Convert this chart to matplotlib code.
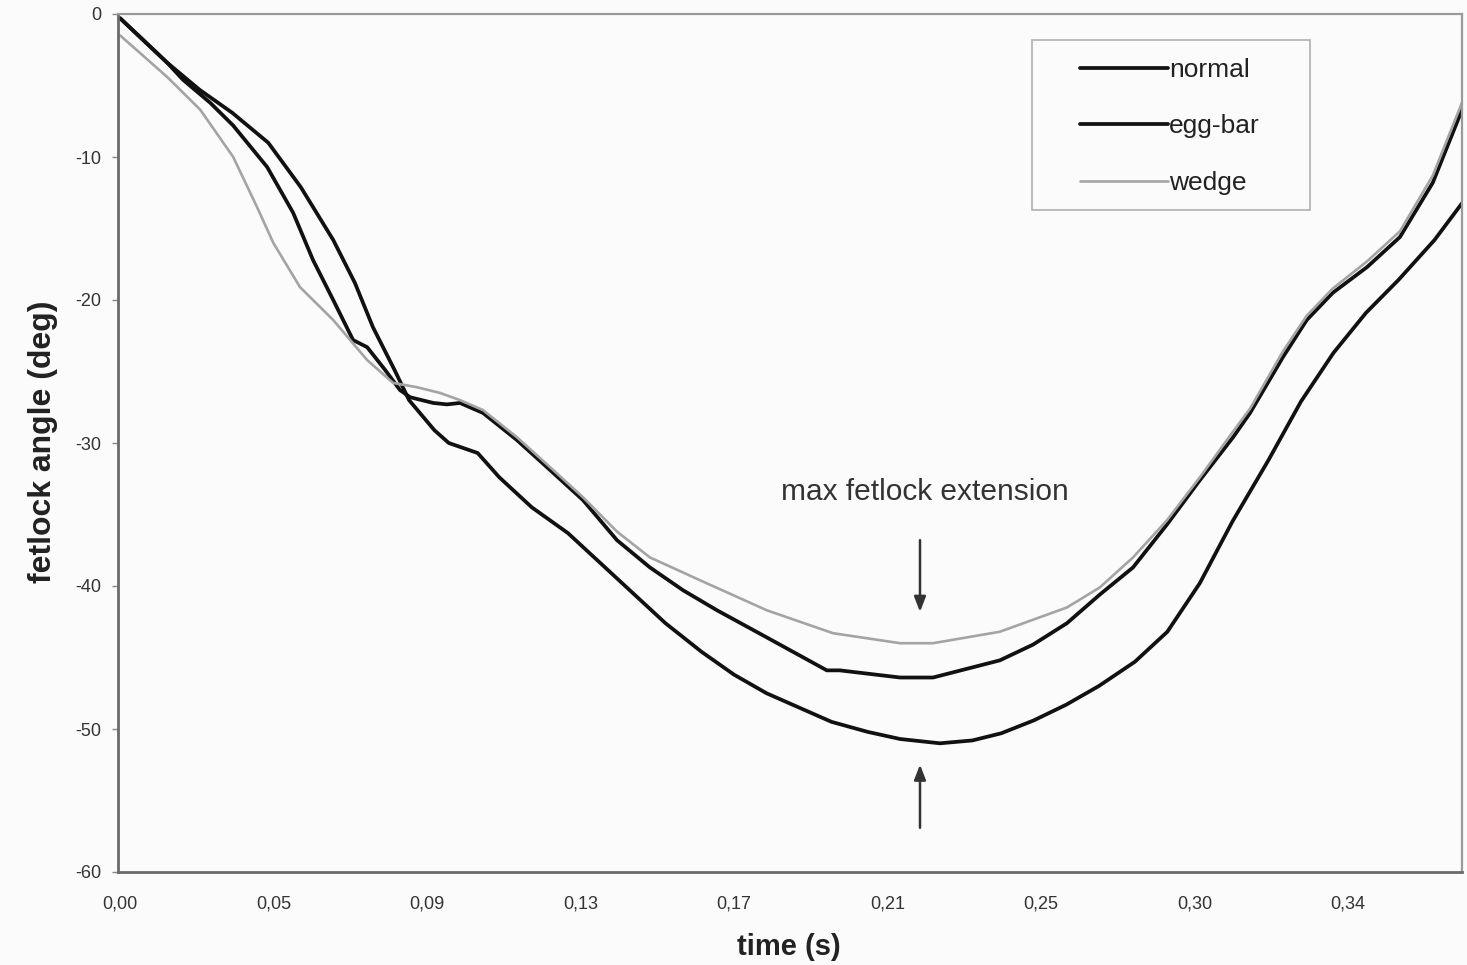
import matplotlib
matplotlib.use("Agg")
import matplotlib.pyplot as plt
from matplotlib.patches import Rectangle

plt.rcParams['font.family'] = ['Liberation Sans', 'DejaVu Sans']

# ---- data (time in s, fetlock angle in deg) ----
t_normal = [0.000, 0.013, 0.022, 0.031, 0.041, 0.050, 0.059, 0.065, 0.070, 0.076,
            0.080, 0.087, 0.091, 0.099, 0.105, 0.114, 0.124, 0.133, 0.142, 0.151,
            0.161, 0.170, 0.179, 0.188, 0.197, 0.207, 0.216, 0.227, 0.236, 0.244,
            0.253, 0.262, 0.271, 0.281, 0.290, 0.299, 0.308, 0.318, 0.327, 0.336,
            0.345, 0.354, 0.364, 0.372]
y_normal = [-0.3, -3.4, -5.3, -6.9, -9.0, -12.1, -15.8, -18.8, -21.9, -24.9,
            -27.0, -29.1, -30.0, -30.7, -32.4, -34.5, -36.3, -38.4, -40.5, -42.6,
            -44.6, -46.2, -47.5, -48.5, -49.5, -50.2, -50.7, -51.0, -50.8, -50.3,
            -49.4, -48.3, -47.0, -45.3, -43.2, -39.8, -35.5, -31.2, -27.1, -23.7,
            -20.9, -18.6, -15.8, -13.1]

t_eggbar = [0.000, 0.013, 0.0174, 0.0249, 0.0313, 0.0407, 0.0479, 0.0534, 0.0590, 0.0645,
            0.0684, 0.0734, 0.0775, 0.0803, 0.0867, 0.0905, 0.0941, 0.1005, 0.1099, 0.1191,
            0.1282, 0.1376, 0.1467, 0.1559, 0.1653, 0.1791, 0.1957, 0.1993, 0.2160, 0.2251,
            0.2436, 0.2528, 0.2622, 0.2713, 0.2805, 0.2899, 0.2990, 0.3082, 0.3129, 0.3220,
            0.3286, 0.3358, 0.3453, 0.3544, 0.3635, 0.3716]
y_eggbar = [-0.3, -3.4, -4.6, -6.2, -7.8, -10.7, -13.9, -17.2, -20.0, -22.8,
            -23.3, -24.9, -26.3, -26.8, -27.2, -27.3, -27.2, -27.9, -29.8, -31.9,
            -34.0, -36.8, -38.7, -40.3, -41.7, -43.6, -45.9, -45.9, -46.4, -46.4,
            -45.2, -44.1, -42.6, -40.6, -38.7, -35.7, -32.6, -29.6, -27.9, -24.0,
            -21.4, -19.5, -17.7, -15.6, -11.8, -6.7]

t_wedge = [0.000, 0.013, 0.0222, 0.0313, 0.0379, 0.0424, 0.0498, 0.0590, 0.0684, 0.0756,
           0.0822, 0.0886, 0.0941, 0.1005, 0.1099, 0.1191, 0.1282, 0.1376, 0.1467, 0.1606,
           0.1791, 0.1974, 0.2160, 0.2251, 0.2436, 0.2622, 0.2713, 0.2805, 0.2899, 0.2990,
           0.3082, 0.3129, 0.3220, 0.3286, 0.3358, 0.3453, 0.3544, 0.3635, 0.3716]
y_wedge = [-1.5, -4.4, -6.7, -10.0, -13.5, -16.0, -19.1, -21.4, -24.2, -25.8,
           -26.1, -26.5, -27.0, -27.7, -29.6, -31.7, -33.8, -36.2, -38.0, -39.6,
           -41.7, -43.3, -44.0, -44.0, -43.2, -41.5, -40.1, -38.0, -35.4, -32.4,
           -29.2, -27.6, -23.6, -21.1, -19.2, -17.3, -15.2, -11.3, -6.2]

x_tick_step = 0.0425
x_tick_labels = ["0,00", "0,05", "0,09", "0,13", "0,17", "0,21", "0,25", "0,30", "0,34"]
y_ticks = [0, -10, -20, -30, -40, -50, -60]
y_tick_labels = ["0", "-10", "-20", "-30", "-40", "-50", "-60"]

# ---- figure ----
W, H = 1467, 965
fig = plt.figure(figsize=(W / 100, H / 100), dpi=100, facecolor='#fbfbfb')
ax = fig.add_axes([118 / W, 1 - 872 / H, (1462 - 118) / W, (872 - 14) / H])
ax.set_facecolor('#fbfbfb')

line_kw = dict(solid_capstyle='round', solid_joinstyle='round')
ax.plot(t_normal, y_normal, color='#111111', lw=2.7, label='normal', **line_kw)
ax.plot(t_eggbar, y_eggbar, color='#111111', lw=2.7, label='egg-bar', **line_kw)
ax.plot(t_wedge, y_wedge, color='#a4a4a4', lw=1.9, label='wedge', **line_kw)

ax.set_xlim(-0.0006, 0.3716)
ax.set_ylim(-60, 0)

ax.set_xticks([i * x_tick_step for i in range(len(x_tick_labels))])
ax.set_xticklabels(x_tick_labels)
ax.set_yticks(y_ticks)
ax.set_yticklabels(y_tick_labels)
ax.tick_params(axis='x', length=0, pad=17, labelsize=13, colors='#333333')
ax.tick_params(axis='y', length=4, width=1, pad=8, labelsize=13, colors='#333333',
               color='#888888')

for side in ['left', 'bottom']:
    ax.spines[side].set_color('#6a6a6a')
    ax.spines[side].set_linewidth(2.0)
for side in ['top', 'right']:
    ax.spines[side].set_color('#9a9a9a')
    ax.spines[side].set_linewidth(1.6)

ax.set_xlabel('time (s)', fontsize=21, fontweight='bold', color='#222222')
ax.set_ylabel('fetlock angle (deg)', fontsize=23, fontweight='bold', color='#222222')
ax.xaxis.set_label_coords(0.499, -0.071)
ax.yaxis.set_label_coords(-0.045, 0.502)

# legend: frame drawn as a separate box, entries placed inside it
ax.add_patch(Rectangle((0.680, 0.7716), 0.2068, 0.198, transform=ax.transAxes,
                       facecolor='#fbfbfb', edgecolor='#b0b0b0', lw=1.2, zorder=4))
leg = ax.legend(loc='upper left', bbox_to_anchor=(0.7158, 0.9487), fontsize=19,
                handlelength=3.33, handletextpad=0.05, labelspacing=1.23,
                borderpad=0, borderaxespad=0, frameon=False)
leg.set_zorder(5)
for txt in leg.get_texts():
    txt.set_color('#222222')

# annotation
ax.text(0.2229, -33.4, 'max fetlock extension', fontsize=21.5, color='#333333',
        ha='center', va='center')
ax.annotate('', xy=(0.2215, -42.0), xytext=(0.2215, -36.6),
            arrowprops=dict(arrowstyle='-|>,head_length=0.9,head_width=0.35',
                            color='#333333', lw=1.8))
ax.annotate('', xy=(0.2215, -52.3), xytext=(0.2215, -57.1),
            arrowprops=dict(arrowstyle='-|>,head_length=0.9,head_width=0.35',
                            color='#333333', lw=1.8))

fig.savefig('out.png', dpi=100, facecolor=fig.get_facecolor())
